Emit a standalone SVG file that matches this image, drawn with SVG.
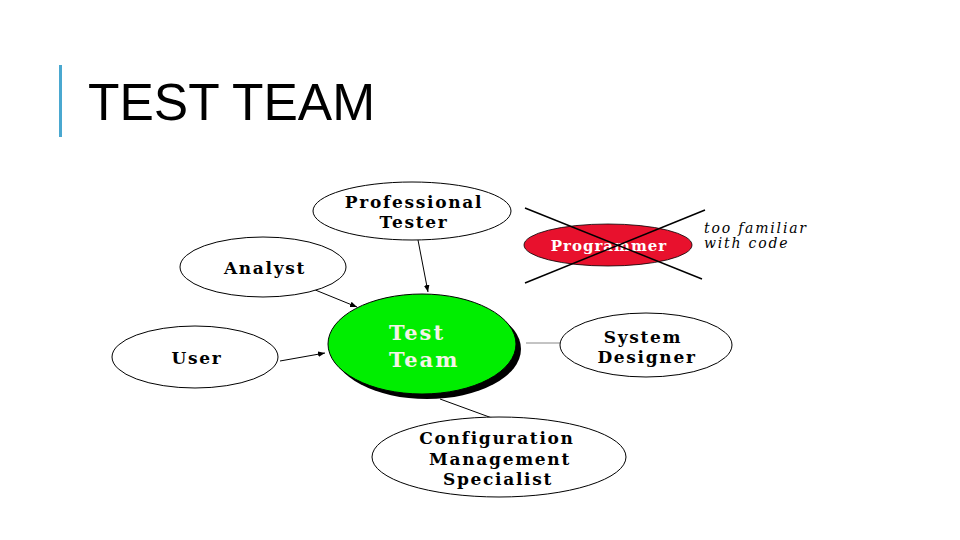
<svg xmlns="http://www.w3.org/2000/svg" width="960" height="540" viewBox="0 0 960 540">
<style>
.node{fill:#fff;stroke:#000;stroke-width:1}
.lbl{font-family:"DejaVu Serif","Liberation Serif",serif;font-weight:bold;font-size:17px;letter-spacing:1.7px;fill:#000;text-anchor:middle}
.conn{stroke:#000;stroke-width:1;fill:none}
</style>
<defs>
<marker id="arr" viewBox="0 0 10 10" refX="10" refY="5" markerWidth="7" markerHeight="7" orient="auto" markerUnits="userSpaceOnUse">
<path d="M0,1 L10,5 L0,9 z" fill="#000"/>
</marker>
</defs>
<rect width="960" height="540" fill="#fff"/>
<rect x="59" y="65" width="3" height="72" fill="#4aa8d0"/>
<text x="88" y="120" font-family="Liberation Sans, Arial, sans-serif" font-size="51.5" fill="#000">TEST TEAM</text>

<g id="connectors">
<line class="conn" x1="418" y1="240" x2="428" y2="292" marker-end="url(#arr)"/>
<line class="conn" x1="303" y1="285" x2="357" y2="307" marker-end="url(#arr)"/>
<line class="conn" x1="280" y1="361" x2="325" y2="353" marker-end="url(#arr)"/>
<line x1="526" y1="343" x2="560" y2="343" stroke="#888" stroke-width="1"/>
<line class="conn" x1="440" y1="399" x2="492" y2="418"/>
</g>

<g id="professional-tester">
<ellipse class="node" cx="412" cy="211" rx="99" ry="29"/>
<text class="lbl" x="414" y="208">Professional</text>
<text class="lbl" x="414" y="228">Tester</text>
</g>

<g id="analyst">
<ellipse class="node" cx="263" cy="267" rx="83" ry="30"/>
<text class="lbl" x="265" y="274" font-size="18">Analyst</text>
</g>

<g id="user">
<ellipse class="node" cx="195" cy="357" rx="83" ry="31"/>
<text class="lbl" x="197" y="364" font-size="18">User</text>
</g>

<g id="test-team">
<ellipse cx="427" cy="349" rx="94" ry="50" fill="#000"/>
<ellipse cx="422" cy="344" rx="94" ry="50" fill="#00ee00" stroke="#000" stroke-width="1"/>
<text x="389" y="340" font-family="DejaVu Serif, Liberation Serif, serif" font-weight="bold" font-size="21" letter-spacing="2" fill="#f4f4e8">Test</text>
<text x="389" y="367" font-family="DejaVu Serif, Liberation Serif, serif" font-weight="bold" font-size="21" letter-spacing="2" fill="#f4f4e8">Team</text>
</g>

<g id="system-designer">
<ellipse class="node" cx="646" cy="345" rx="86" ry="32"/>
<text class="lbl" x="643" y="343">System</text>
<text class="lbl" x="647" y="363">Designer</text>
</g>

<g id="config-specialist">
<ellipse class="node" cx="499" cy="457" rx="127" ry="40"/>
<text class="lbl" x="497" y="444">Configuration</text>
<text class="lbl" x="500" y="465">Management</text>
<text class="lbl" x="498" y="485">Specialist</text>
</g>

<g id="programmer">
<ellipse cx="608" cy="245" rx="84" ry="21" fill="#e8112d" stroke="#000" stroke-width="0.8"/>
<text x="609" y="251" font-family="DejaVu Serif, Liberation Serif, serif" font-weight="bold" font-size="15" letter-spacing="1" fill="#fff" text-anchor="middle">Programmer</text>
<line x1="525" y1="208" x2="702" y2="279" stroke="#000" stroke-width="1.5"/>
<line x1="525" y1="283" x2="705" y2="210" stroke="#000" stroke-width="1.5"/>
<text x="704" y="233" font-family="DejaVu Serif, Liberation Serif, serif" font-style="italic" font-size="14" letter-spacing="1.8" fill="#000">too familiar</text>
<text x="704" y="248" font-family="DejaVu Serif, Liberation Serif, serif" font-style="italic" font-size="14" letter-spacing="1.8" fill="#000">with code</text>
</g>
</svg>
